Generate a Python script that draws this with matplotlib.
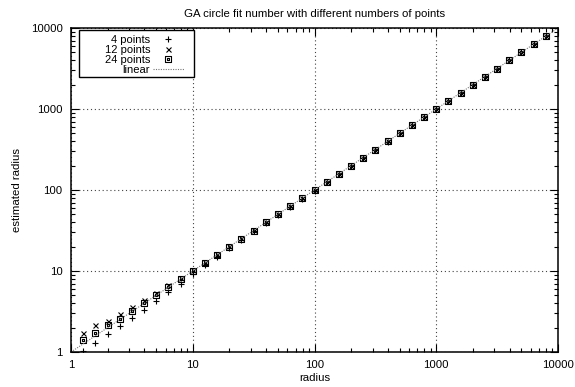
import matplotlib
matplotlib.use("Agg")
import matplotlib.pyplot as plt
from matplotlib.path import Path
from matplotlib.patches import Rectangle
from matplotlib.ticker import LogLocator, FixedLocator, NullFormatter

# ---- data ----
radius = [1.26, 1.58, 2.0, 2.51, 3.16, 3.98, 5.01, 6.31, 7.94, 10.0,
          12.6, 15.8, 20.0, 25.1, 31.6, 39.8, 50.1, 63.1, 79.4, 100.0,
          126, 158, 200, 251, 316, 398, 501, 631, 794, 1000,
          1259, 1585, 1995, 2512, 3162, 3981, 5012, 6310, 7943]

est_4 = [1.02, 1.30, 1.66, 2.07, 2.64, 3.34, 4.25, 5.47, 6.98, 9.2,
         12.0, 15.1, 19.3, 24.4, 30.8, 38.9, 49.0, 61.8, 78.0, 98.3,
         124, 156, 198, 249, 314, 396, 499, 629, 792, 998,
         1257, 1583, 1993, 2510, 3160, 3979, 5010, 6308, 7941]

est_12 = [1.74, 2.13, 2.44, 2.97, 3.64, 4.42, 5.32, 6.65, 8.3, 10.3,
          12.9, 16.1, 20.3, 25.4, 31.9, 40.1, 50.4, 63.4, 79.7, 100.3,
          126, 158, 200, 251, 316, 398, 501, 631, 794, 1000,
          1259, 1585, 1995, 2512, 3162, 3981, 5012, 6310, 7943]

est_24 = [1.40, 1.74, 2.13, 2.57, 3.18, 3.97, 5.07, 6.33, 8.0, 10.0,
          12.6, 15.8, 20.0, 25.1, 31.6, 39.8, 50.1, 63.1, 79.4, 100.0,
          126, 158, 200, 251, 316, 398, 501, 631, 794, 1000,
          1259, 1585, 1995, 2512, 3162, 3981, 5012, 6310, 7943]

linear_x = [1, 10000]

series_labels = ["4 points", "12 points", "24 points", "linear"]
xticks = [1, 10, 100, 1000, 10000]
yticks = [1, 10, 100, 1000, 10000]
tick_labels = ["1", "10", "100", "1000", "10000"]

FS = 8.2
LFS = 8.0
plt.rcParams['font.family'] = ['Liberation Sans', 'DejaVu Sans']
plt.rcParams['font.size'] = FS

fig = plt.figure(figsize=(5.75, 3.87), dpi=100)
AX_L, AX_B, AX_W, AX_H = 71, 35, 487, 324   # pixels (bottom measured from figure bottom)
AX_TOP = 387 - AX_B - AX_H                   # top edge, pixels from figure top
ax = fig.add_axes([AX_L/575, AX_B/387, AX_W/575, AX_H/387])

def fx(px):
    return (px - AX_L) / AX_W

def fy(py):
    return (AX_TOP + AX_H - py) / AX_H

# square with centre dot marker (gnuplot style)
verts = [(-1, -1), (1, -1), (1, 1), (-1, 1), (-1, -1),
         (-0.2, -0.2), (0.2, -0.2), (0.2, 0.2), (-0.2, 0.2), (-0.2, -0.2)]
codes = [Path.MOVETO, Path.LINETO, Path.LINETO, Path.LINETO, Path.CLOSEPOLY,
         Path.MOVETO, Path.LINETO, Path.LINETO, Path.LINETO, Path.CLOSEPOLY]
box_marker = Path(verts, codes)

ax.plot(radius, est_4, linestyle='none', marker='+', markersize=5,
        markeredgewidth=0.8, color='black', label=series_labels[0])
ax.plot(radius, est_12, linestyle='none', marker='x', markersize=3.6,
        markeredgewidth=0.8, color='black', label=series_labels[1])
ax.plot(radius, est_24, linestyle='none', marker=box_marker, markersize=4.6,
        markeredgewidth=0.8, markerfacecolor='none', color='black',
        label=series_labels[2])
ax.plot(linear_x, linear_x, linestyle=(0, (1, 1.2)), linewidth=0.8,
        color='#777777', label=series_labels[3])

ax.set_xscale('log')
ax.set_yscale('log')
ax.set_xlim(1, 10000)
ax.set_ylim(1, 10000)

ax.xaxis.set_major_locator(FixedLocator(xticks))
ax.yaxis.set_major_locator(FixedLocator(yticks))
ax.set_xticklabels(tick_labels)
ax.set_yticklabels(tick_labels)
ax.xaxis.set_minor_locator(LogLocator(base=10, subs=range(2, 10)))
ax.yaxis.set_minor_locator(LogLocator(base=10, subs=range(2, 10)))
ax.xaxis.set_minor_formatter(NullFormatter())
ax.yaxis.set_minor_formatter(NullFormatter())

ax.tick_params(which='both', direction='in', top=True, right=True,
               color='black', width=0.8)
ax.tick_params(which='major', length=6, pad=6, labelsize=FS)
ax.tick_params(which='minor', length=3)

ax.grid(True, which='major', linestyle=(0, (1, 2.5)), linewidth=0.8,
        color='#444444')
for s in ax.spines.values():
    s.set_linewidth(1.1)
    s.set_color('black')

ax.set_title("GA circle fit number with different numbers of points",
             fontsize=FS, pad=8)
ax.set_xlabel("radius", fontsize=FS, labelpad=2)
ax.set_ylabel("estimated radius", fontsize=FS, labelpad=6)

# legend frame (gnuplot-style box)
box_x0, box_x1, box_y0, box_y1 = 79, 194, 30, 77
frame = Rectangle((fx(box_x0), fy(box_y1)),
                  fx(box_x1) - fx(box_x0), fy(box_y0) - fy(box_y1),
                  transform=ax.transAxes, facecolor='white', edgecolor='black',
                  linewidth=1.0, zorder=4, clip_on=False)
ax.add_patch(frame)

leg = ax.legend(loc='upper right', markerfirst=False, frameon=False,
                fontsize=LFS, handlelength=2.8, handletextpad=0.25,
                borderpad=0.0, labelspacing=0.0, borderaxespad=0.0,
                bbox_to_anchor=(fx(184), fy(35.0)))
leg.set_zorder(5)

fig.savefig("out.png", dpi=100)
